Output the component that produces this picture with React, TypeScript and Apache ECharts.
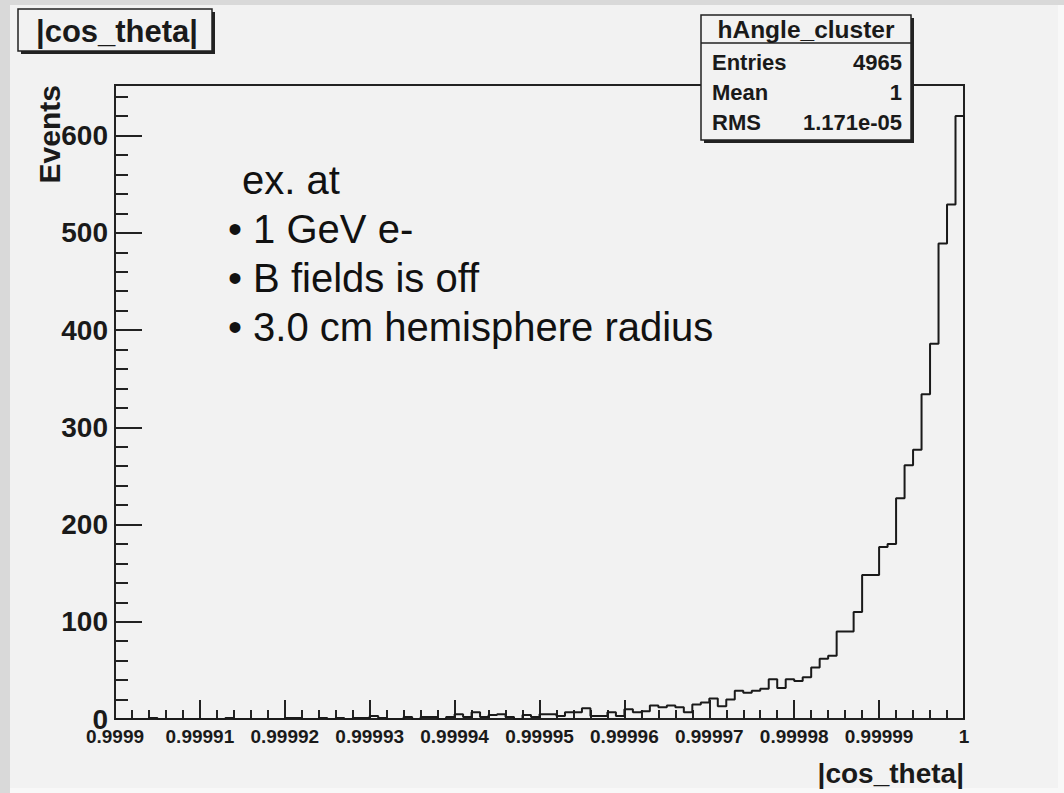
import React, { useEffect, useRef } from 'react';
import * as echarts from 'echarts';

// ---- data ----
const X_MIN = 0.9999;
const X_MAX = 1.0;
const N_BINS = 100;
const Y_MAX = 652;

const counts = [
  0, 0, 0, 0, 1, 0, 0, 0, 0, 0,
  0, 0, 0, 1, 0, 0, 0, 0, 0, 0,
  1, 1, 0, 0, 1, 0, 1, 0, 1, 1,
  3, 1, 0, 0, 2, 0, 2, 2, 0, 2,
  5, 2, 7, 2, 4, 5, 2, 0, 4, 2,
  5, 5, 3, 7, 7, 11, 3, 3, 7, 3,
  10, 7, 8, 14, 12, 14, 12, 7, 15, 17,
  21, 13, 20, 29, 27, 29, 31, 41, 32, 41,
  39, 43, 53, 62, 65, 90, 90, 110, 148, 148,
  177, 180, 227, 261, 277, 334, 386, 489, 529, 620,
];

const xTickLabels = ['0.9999', '0.99991', '0.99992', '0.99993', '0.99994', '0.99995', '0.99996', '0.99997', '0.99998', '0.99999', '1'];
const yTickLabels = ['0', '100', '200', '300', '400', '500', '600'];

const histTitle = '|cos_theta|';
const xTitle = '|cos_theta|';
const yTitle = 'Events';
const statsTitle = 'hAngle_cluster';
const statsNames = ['Entries', 'Mean', 'RMS'];
const statsValues = ['4965', '1', '1.171e-05'];
const noteLines = ['ex. at', '\u2022 1 GeV e-', '\u2022 B fields is off', '\u2022 3.0 cm hemisphere radius'];

const FONT = '"Liberation Sans", Arial, Helvetica, sans-serif';
const INK = '#1a1a1a';
const BG = '#f2f2f2';

export default function App() {
  const ref = useRef<HTMLDivElement>(null);

  useEffect(() => {
    if (!ref.current) return;
    const chart = echarts.init(ref.current, undefined, { renderer: 'svg' });

    const binWidth = (X_MAX - X_MIN) / N_BINS;
    const stepData: number[][] = counts.map((c, i) => [X_MIN + i * binWidth, c]);
    stepData.push([X_MAX, counts[N_BINS - 1]]);
    stepData.push([X_MAX, 0]);

    const xMajor = (X_MAX - X_MIN) / (xTickLabels.length - 1);

    const labelStyle = { fontFamily: FONT, fontWeight: 'bold' as const, color: INK };

    const statsRowsY = [62, 92, 122];

    const option: any = {
      animation: false,
      backgroundColor: BG,
      grid: {
        left: 115, top: 85, width: 849, height: 634,
        show: true, borderColor: '#222', borderWidth: 2, backgroundColor: 'transparent',
        containLabel: false,
      },
      xAxis: {
        type: 'value', min: X_MIN, max: X_MAX, interval: xMajor,
        axisLine: { show: true, onZero: false, lineStyle: { color: '#222', width: 2 } },
        axisTick: { show: true, inside: true, length: 19, lineStyle: { color: '#222', width: 2 } },
        minorTick: { show: true, splitNumber: 5, length: 9, lineStyle: { color: '#222', width: 2 } },
        splitLine: { show: false },
        minorSplitLine: { show: false },
        axisLabel: {
          ...labelStyle, fontSize: 19, margin: 8, showMinLabel: true, showMaxLabel: true,
          formatter: (v: number) => {
            const k = Math.round((v - X_MIN) / xMajor);
            return xTickLabels[k] ?? '';
          },
        },
      },
      yAxis: [
        {
          type: 'value', min: 0, max: Y_MAX, interval: 100, position: 'left',
          axisLine: { show: true, onZero: false, lineStyle: { color: '#222', width: 2 } },
          axisTick: { show: true, inside: true, length: 27, lineStyle: { color: '#222', width: 2 } },
          splitLine: { show: false },
          axisLabel: {
            ...labelStyle, fontSize: 28, margin: 7, showMaxLabel: false,
            formatter: (v: number) => (Math.abs(v % 100) < 1e-6 ? (yTickLabels[Math.round(v / 100)] ?? '') : ''),
          },
        },
        {
          type: 'value', min: 0, max: Y_MAX, interval: 20, position: 'left', offset: 0,
          axisLine: { show: false, onZero: false },
          axisTick: { show: true, inside: true, length: 13, lineStyle: { color: '#222', width: 2 } },
          splitLine: { show: false },
          axisLabel: { show: false },
        },
      ],
      series: [
        {
          type: 'line', xAxisIndex: 0, yAxisIndex: 0,
          step: 'end', symbol: 'none', clip: true,
          lineStyle: { color: '#1a1a1a', width: 2 },
          data: stepData,
          z: 5,
        },
      ],
      graphic: [
        // outer bevel strips
        { type: 'rect', shape: { x: 0, y: 0, width: 10, height: 793 }, style: { fill: '#d9d9d9' }, z: 0 },
        { type: 'rect', shape: { x: 0, y: 0, width: 1064, height: 5 }, style: { fill: '#d9d9d9' }, z: 0 },
        { type: 'rect', shape: { x: 1058, y: 5, width: 6, height: 788 }, style: { fill: '#f8f8f8' }, z: 0 },
        { type: 'rect', shape: { x: 10, y: 788, width: 1054, height: 5 }, style: { fill: '#f8f8f8' }, z: 0 },
        // title box
        { type: 'rect', shape: { x: 21, y: 12, width: 194, height: 42 }, style: { fill: '#222' }, z: 50 },
        { type: 'rect', shape: { x: 18, y: 9, width: 194, height: 42 }, style: { fill: BG, stroke: '#222', lineWidth: 1.5 }, z: 51 },
        {
          type: 'text', x: 117, y: 31, z: 52,
          style: { text: histTitle, fontFamily: FONT, fontWeight: 'bold', fontSize: 31, fill: INK, align: 'center', verticalAlign: 'middle' },
        },
        // stats box
        { type: 'rect', shape: { x: 704, y: 18, width: 210, height: 125 }, style: { fill: '#222' }, z: 50 },
        { type: 'rect', shape: { x: 701, y: 15, width: 210, height: 125 }, style: { fill: BG, stroke: '#222', lineWidth: 1.5 }, z: 51 },
        { type: 'line', shape: { x1: 701, y1: 43, x2: 911, y2: 43 }, style: { stroke: '#222', lineWidth: 1.5 }, z: 52 },
        {
          type: 'text', x: 806, y: 29, z: 52,
          style: { text: statsTitle, fontFamily: FONT, fontWeight: 'bold', fontSize: 24.5, fill: INK, align: 'center', verticalAlign: 'middle' },
        },
        ...statsNames.map((n, i) => ({
          type: 'text', x: 712, y: statsRowsY[i], z: 52,
          style: { text: n, fontFamily: FONT, fontWeight: 'bold', fontSize: 22, fill: INK, align: 'left', verticalAlign: 'middle' },
        })),
        ...statsValues.map((v, i) => ({
          type: 'text', x: 902, y: statsRowsY[i], z: 52,
          style: { text: v, fontFamily: FONT, fontWeight: 'bold', fontSize: 22, fill: INK, align: 'right', verticalAlign: 'middle' },
        })),
        // axis titles
        {
          type: 'text', x: 964, y: 773, z: 52,
          style: { text: xTitle, fontFamily: FONT, fontWeight: 'bold', fontSize: 28, fill: INK, align: 'right', verticalAlign: 'middle' },
        },
        {
          type: 'text', x: 49, y: 85, rotation: Math.PI / 2, z: 52,
          style: { text: yTitle, fontFamily: FONT, fontWeight: 'bold', fontSize: 30, fill: INK, align: 'right', verticalAlign: 'middle' },
        },
        // annotation
        ...noteLines.map((t, i) => ({
          type: 'text', x: i === 0 ? 242 : 228, y: 180 + i * 49, z: 52,
          style: { text: t, fontFamily: FONT, fontSize: 40, fill: '#111', align: 'left', verticalAlign: 'middle' },
        })),
      ],
    };

    chart.setOption(option);
    return () => chart.dispose();
  }, []);

  return (
    <div
      ref={ref}
      style={{ position: 'fixed', left: 0, top: 0, width: 1064, height: 793 }}
    />
  );
}
